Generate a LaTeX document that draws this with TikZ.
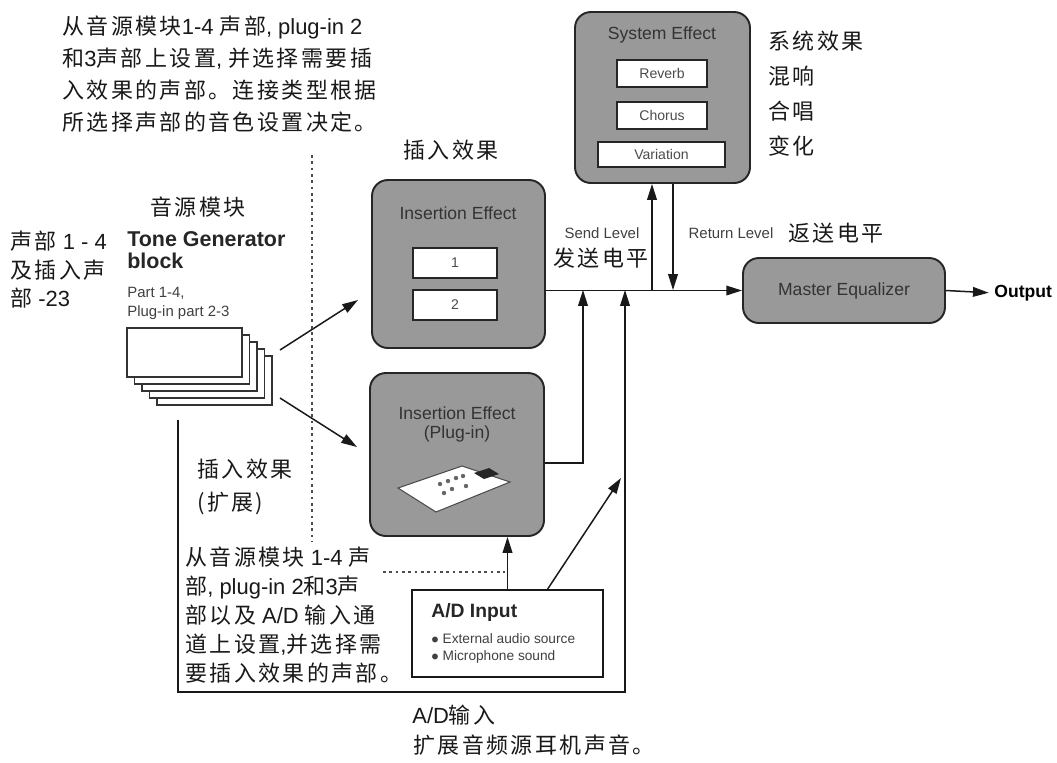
\documentclass[tikz,border=0pt]{standalone}
\usepackage{fontspec}
\setmainfont{Liberation Sans}
\newfontfamily\cjk[LetterSpace=11]{Noto Sans CJK SC}
\usetikzlibrary{arrows.meta}

\begin{document}
\begin{tikzpicture}[x=0.02cm,y=-0.02cm]

 \tikzset{
    fxbox/.style={draw=black!85, line width=1.1pt, fill=black!40, rounded corners=9pt, inner sep=0pt},
    slot/.style={draw=black!85, line width=0.9pt, fill=white, inner sep=0pt, font=\fontsize{8}{9}\selectfont, text=black!70},
    boxtitle/.style={font=\fontsize{10}{12}\selectfont, text=black!80, align=center, inner sep=0pt},
    note/.style={align=left, inner sep=0pt, text=black!90},
    lbl/.style={font=\fontsize{8.5}{10.8}\selectfont, text=black!75, inner sep=0pt},
    sig/.style={line width=0.85pt, draw=black!90, -{Triangle[length=9pt,width=5.5pt]}},
    sep/.style={dotted, line width=1.6pt, draw=black!70},
    card/.style={draw=black!80, line width=0.8pt, fill=white, minimum width=2.3cm, minimum height=0.98cm, inner sep=0pt},
  }

  \useasboundingbox[fill=white] (0,0) rectangle (1057,762);

  % effect blocks
  \node[fxbox, minimum width=3.5cm, minimum height=3.42cm] (sysfx) at (662.5,97.5) {};
  \node[boxtitle] (systitle) at (662,35) {System Effect};
  \node[slot, minimum width=1.8cm, minimum height=0.54cm] (reverb) at (662,73.5) {Reverb};
  \node[slot, minimum width=1.8cm, minimum height=0.54cm] (chorus) at (662,115.5) {Chorus};
  \node[slot, minimum width=2.54cm, minimum height=0.5cm] (variation) at (661.5,154.5) {Variation};

  \node[fxbox, minimum width=3.46cm, minimum height=3.36cm] (insfx) at (458.5,264) {};
  \node[boxtitle] (institle) at (458,213) {Insertion Effect};
  \node[slot, minimum width=1.68cm, minimum height=0.6cm] (slota) at (455,263) {1};
  \node[slot, minimum width=1.68cm, minimum height=0.6cm] (slotb) at (455,305) {2};

  \node[fxbox, minimum width=3.48cm, minimum height=3.26cm] (plugfx) at (457,454.5) {};
  \node[boxtitle, font=\fontsize{10}{10.8}\selectfont] (plugtitle) at (457,424) {Insertion Effect\\(Plug-in)};
  \draw[draw=black!70, line width=0.6pt, fill=white] (398,488) -- (462,466) -- (510,482) -- (436,512) -- cycle;
  \fill[black!85] (474,473) -- (489,468) -- (499,474) -- (484,479) -- cycle;
  \foreach \dx/\dy in {440/484, 448/481, 456/478, 463/476, 452/489, 466/486, 444/493}
    \fill[black!60] (\dx,\dy) circle (2.2);

  \node[fxbox, minimum width=4.04cm, minimum height=1.3cm] (mastereq) at (844,290.5) {};
  \node[boxtitle] (eqtitle) at (844,290.5) {Master Equalizer};
  \node[inner sep=0pt, anchor=west, font=\fontsize{10}{12}\selectfont\bfseries] (out) at (994,293) {Output};

  \node[draw=black!90, line width=1.2pt, fill=white, minimum width=3.82cm, minimum height=1.74cm, inner sep=0pt] (adin) at (507.5,633.5) {};
  \node[inner sep=0pt, anchor=west, font=\fontsize{11}{13}\selectfont\bfseries, text=black!85] (adtitle) at (431,612) {A/D Input};
  \node[lbl, anchor=north west, align=left, font=\fontsize{7.8}{9.6}\selectfont] (adlist) at (431,633) {$\bullet$ External audio source\\$\bullet$ Microphone sound};

  % tone generator cards
  \foreach \k in {4,3,2,1,0}
    \node[card] (card\k) at (184.5+7.5*\k,352.5+7*\k) {};
  \node[inner sep=0pt, anchor=north west, align=left, font=\fontsize{12.2}{12.6}\selectfont\bfseries, text=black!85] (tgtitle) at (127,231) {Tone Generator\\block};
  \node[lbl, anchor=north west, align=left] (tgparts) at (127,287) {Part 1-4,\\Plug-in part 2-3};

  % signal flow
  \coordinate (sendtap) at (652,290);
  \coordinate (rettap) at (673,290);
  \coordinate (plugtap) at (583,290);
  \coordinate (thrutap) at (625,290);
  \coordinate (drystart) at (178,420);
  \coordinate (drycorner) at (625,692);
  \coordinate (admerge) at (621,478);
  \coordinate (adfork) at (547,590);

  \draw[sig] (insfx.east |- mastereq.west) -- (mastereq.west);
  \draw[sig] (sendtap) -- (sendtap |- sysfx.south);
  \draw[sig] (rettap |- sysfx.south) -- (rettap);
  \draw[sig, shorten >=3pt] (mastereq.east) -- (out.west);
  \draw[sig] ([yshift=-0.17cm]plugfx.east) -| (plugtap);
  \draw[sig] (drystart) |- (drycorner) -- (thrutap);
  \draw[sig] (adin.north) -- (adin.north |- plugfx.south);
  \draw[sig] (adfork) -- (admerge);
  \draw[sig] (280,350) -- (358,300);
  \draw[sig] (280,398) -- (357,447);

  \draw[sep] (312,155) -- (312,542);
  \draw[sep] (383,572) -- (505,572);

  \node[lbl] (sendlbl) at (602,233) {Send Level};
  \node[lbl] (retlbl) at (731,233) {Return Level};

  % chinese notes
  \node[note, anchor=north west, font=\fontsize{12.5}{18.1}\selectfont] (topnote) at (62,16)
    {{\cjk 从音源模块}1-4 {\cjk 声部}, plug-in 2\\
     {\cjk 和}3{\cjk 声部上设置}, {\cjk 并选择需要插}\\
     {\cjk 入效果的声部。连接类型根据}\\
     {\cjk 所选择声部的音色设置决定。}};
  \node[note, anchor=north west, font=\fontsize{12.5}{16.4}\selectfont] (lownote) at (185,547)
    {{\cjk 从音源模块} 1-4 {\cjk 声}\\
     {\cjk 部}, plug-in 2{\cjk 和}3{\cjk 声}\\
     {\cjk 部以及} A/D {\cjk 输入通}\\
     {\cjk 道上设置},{\cjk 并选择需}\\
     {\cjk 要插入效果的声部。}};
  \node[note, anchor=north west, font=\fontsize{12.5}{16.2}\selectfont] (partnote) at (10,231)
    {{\cjk 声部} 1 - 4\\
     {\cjk 及插入声}\\
     {\cjk 部} -23};
  \node[note, anchor=north west, font=\fontsize{12.5}{19.8}\selectfont] (sysnote) at (768,31)
    {{\cjk 系统效果}\\ {\cjk 混响}\\ {\cjk 合唱}\\ {\cjk 变化}};
  \node[note, anchor=west, font=\fontsize{12.5}{15}\selectfont] (tgnote) at (150,207) {\cjk 音源模块};
  \node[note, anchor=west, font=\fontsize{12.5}{15}\selectfont] (insnote) at (403,150) {\cjk 插入效果};
  \node[note, anchor=north west, font=\fontsize{12.5}{18.7}\selectfont] (plugnote) at (197,459) {{\cjk 插入效果}\\ {\cjk (扩展)}};
  \node[note, anchor=west, font=\fontsize{12.5}{15}\selectfont] (sendnote) at (553,258) {\cjk 发送电平};
  \node[note, anchor=west, font=\fontsize{12.5}{15}\selectfont] (retnote) at (788,233) {\cjk 返送电平};
  \node[note, anchor=west, font=\fontsize{12.5}{15}\selectfont] (adnote) at (412,715) {A/D{\cjk 输入}};
  \node[note, anchor=west, font=\fontsize{12.5}{15}\selectfont] (earnote) at (413,745) {\cjk 扩展音频源耳机声音。};

\end{tikzpicture}
\end{document}
